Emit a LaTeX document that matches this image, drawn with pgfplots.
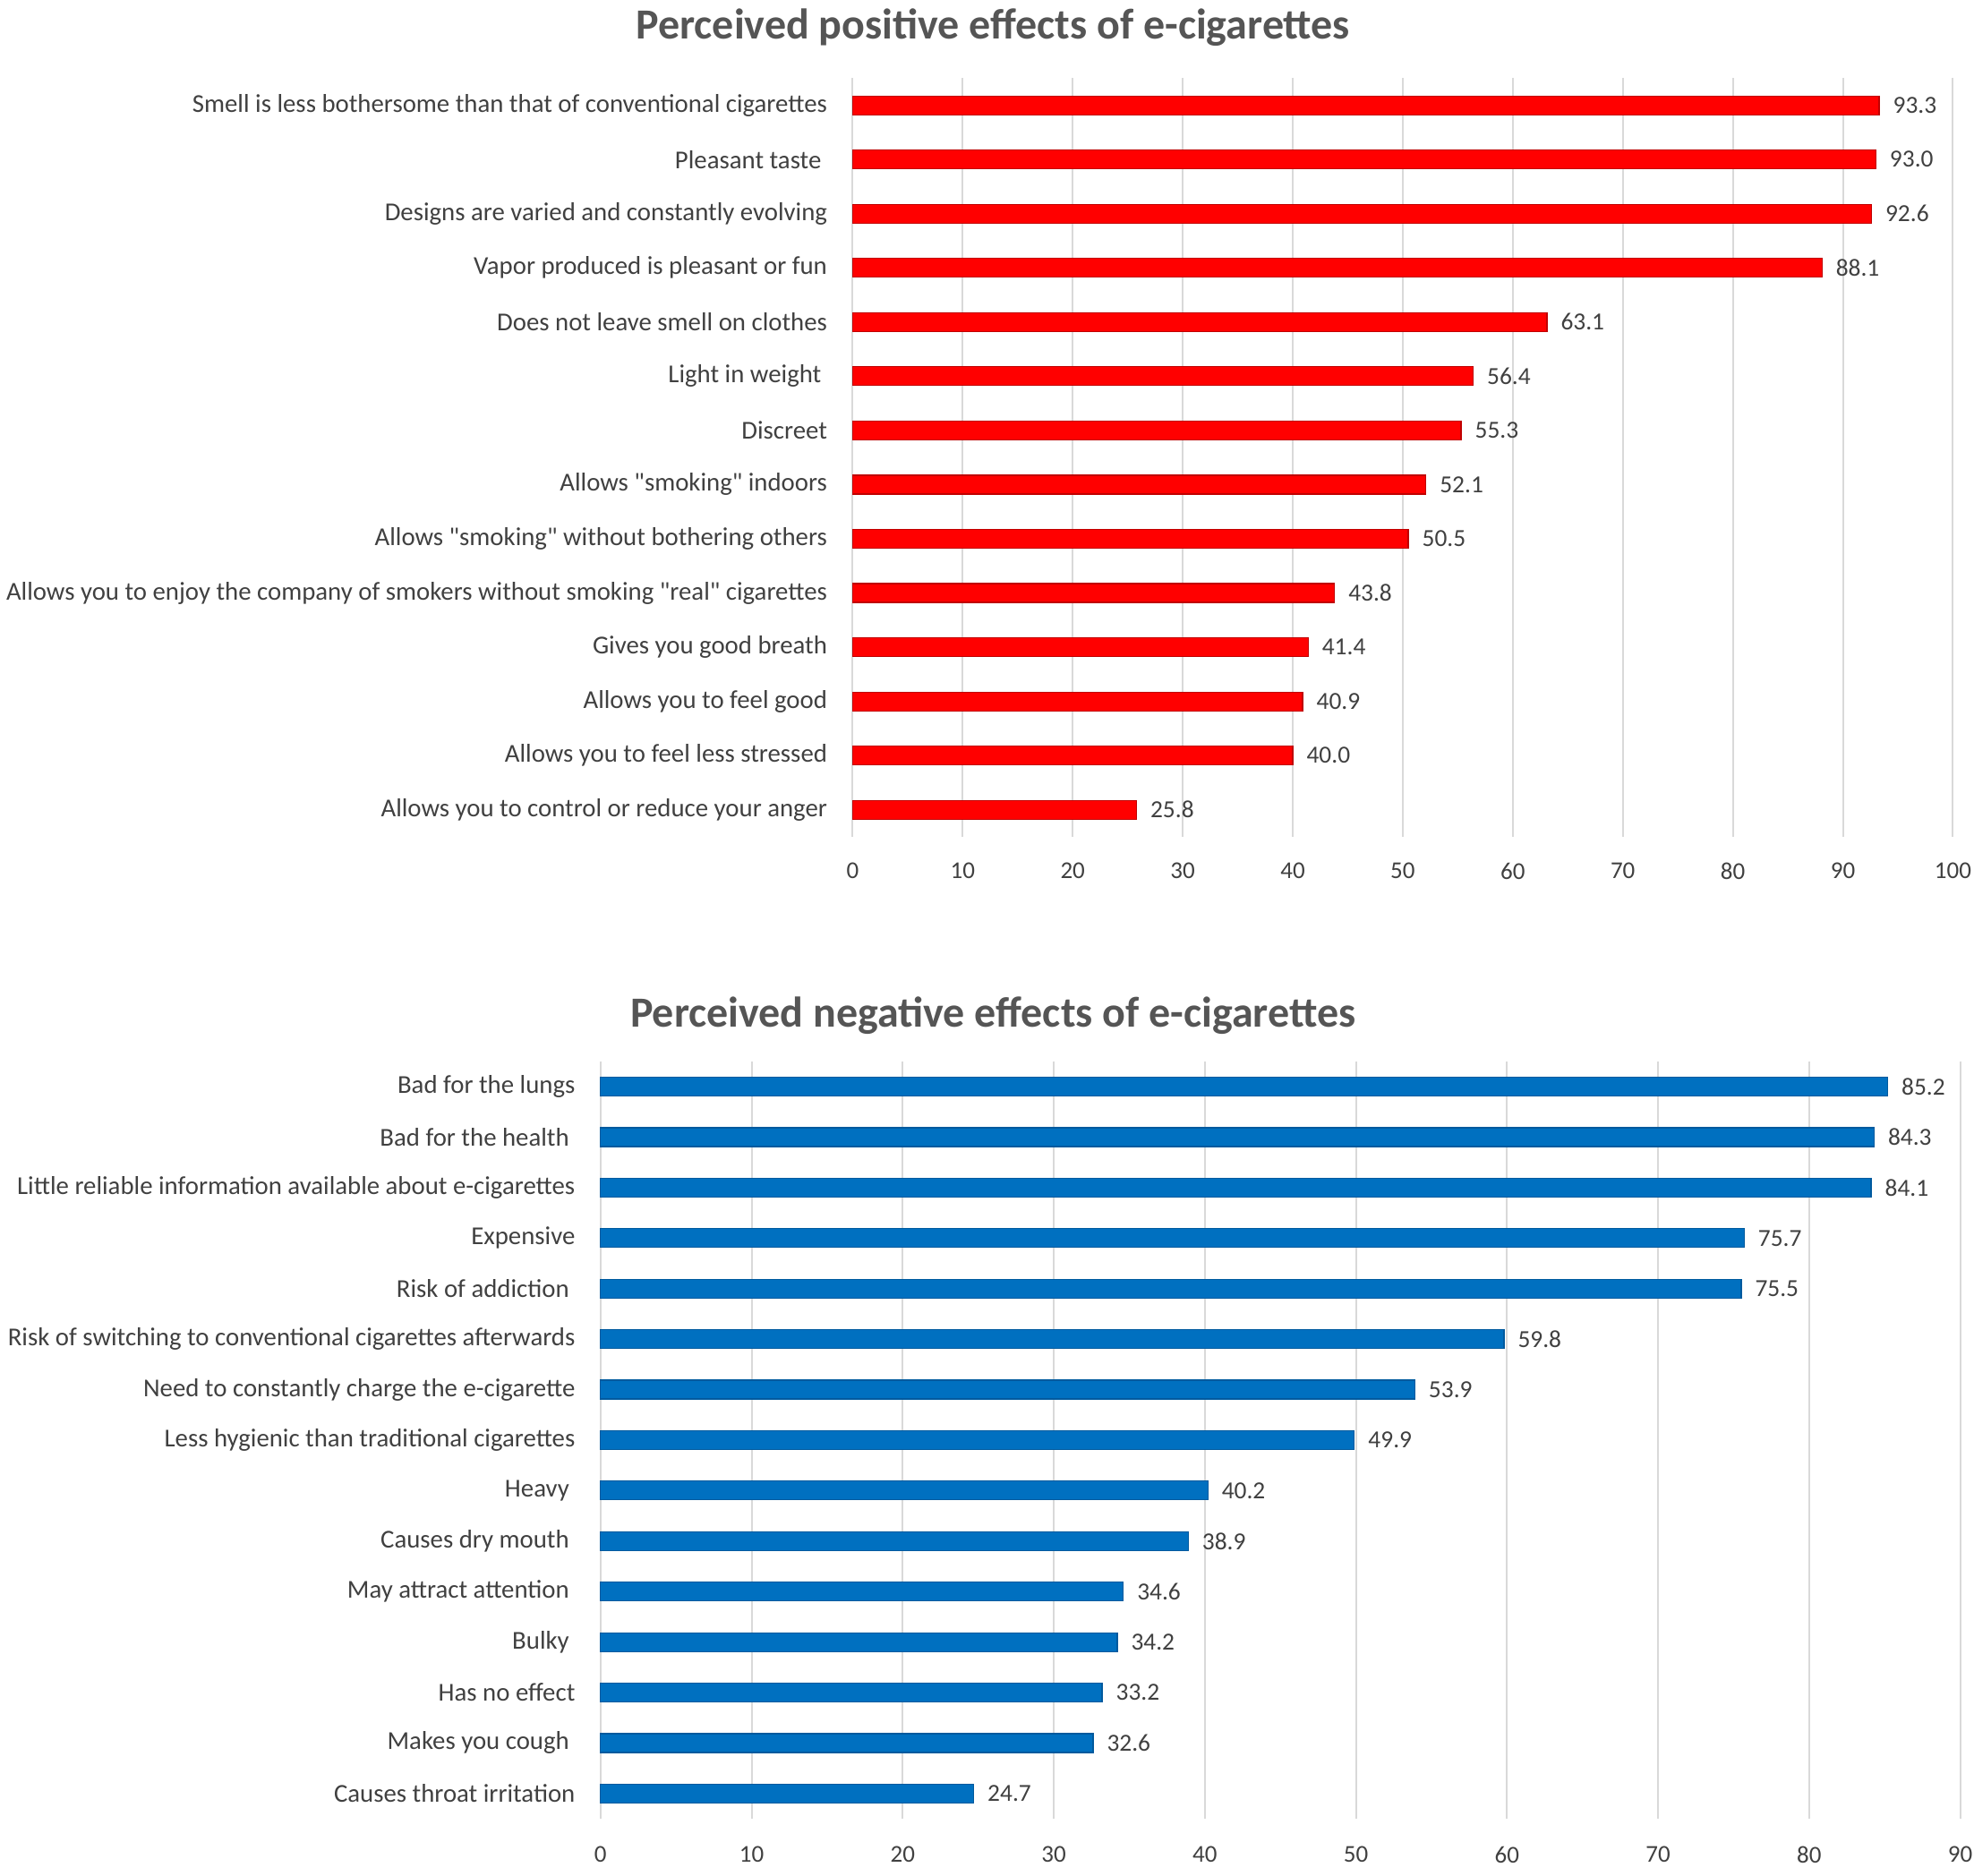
\documentclass[border=0pt]{standalone}
\usepackage{pgfplots}
\pgfplotsset{compat=1.18}
\usepackage{fontspec}
\setmainfont{Carlito}[Ligatures=TeXOff]
\definecolor{barred}{HTML}{FF0000}
\definecolor{barredd}{HTML}{C00000}
\definecolor{barblue}{HTML}{0070C0}
\definecolor{barblued}{HTML}{005A9E}
\definecolor{txt}{HTML}{404040}
\definecolor{ttl}{HTML}{555555}
\definecolor{gridc}{HTML}{D9D9D9}
\pgfplotsset{
  mybars/.style={
    scale only axis,
    anchor=south west,
    xbar,
    y dir=reverse,
    axis line style={draw=none},
    major tick length=0pt,
    xmajorgrids,
    grid style={draw=gridc, line width=1pt},
    /pgf/number format/assume math mode=true,
    ticklabel style={font=\fontsize{13.5}{16}\selectfont, text=txt},
    yticklabel style={font=\fontsize{14.4}{17}\selectfont, inner sep=0pt, xshift=-14pt},
    nodes near coords,
    nodes near coords style={font=\fontsize{13.7}{16}\selectfont, text=txt, anchor=west, inner sep=0pt, xshift=7.5pt,
      /pgf/number format/.cd, fixed, fixed zerofill, precision=1, assume math mode=true},
    bar width=10.5pt,
    clip=false,
  }
}
\begin{document}
\begin{tikzpicture}
\useasboundingbox (0,0) rectangle (1102.5pt,1048pt);
\node[font=\bfseries\fontsize{24}{28}\selectfont, text=ttl] at (554.7pt,1032.5pt) {Perceived positive effects of e-cigarettes};
\node[font=\bfseries\fontsize{24}{28}\selectfont, text=ttl] at (554.7pt,480.5pt) {Perceived negative effects of e-cigarettes};
\begin{axis}[mybars,
  at={(476.2pt,580.5pt)}, width=614.5pt, height=423.8pt,
  xmin=0, xmax=100, ymin=-0.5, ymax=13.5,
  xtick={0,10,...,100},
  xticklabel style={yshift=-11pt},
  ytick={0,...,13},
  yticklabels={
    {Smell is less bothersome than that of conventional cigarettes},
    {Pleasant taste\kern.23em},
    {Designs are varied and constantly evolving},
    {Vapor produced is pleasant or fun},
    {Does not leave smell on clothes},
    {Light in weight\kern.23em},
    {Discreet},
    {Allows "smoking" indoors},
    {Allows "smoking" without bothering others},
    {Allows you to enjoy the company of smokers without smoking "real" cigarettes},
    {Gives you good breath},
    {Allows you to feel good},
    {Allows you to feel less stressed},
    {Allows you to control or reduce your anger}},
]
\addplot[fill=barred, draw=barredd, line width=0.6pt] coordinates {
  (93.3,0) (93.0,1) (92.6,2) (88.1,3) (63.1,4) (56.4,5) (55.3,6)
  (52.1,7) (50.5,8) (43.8,9) (41.4,10) (40.9,11) (40.0,12) (25.8,13)};
\end{axis}
\begin{axis}[mybars,
  at={(335.4pt,32pt)}, width=759.4pt, height=423pt,
  xmin=0, xmax=90, ymin=-0.5, ymax=14.5,
  xtick={0,10,...,90},
  xticklabel style={yshift=-12pt},
  ytick={0,...,14},
  yticklabels={
    {Bad for the lungs},
    {Bad for the health\kern.23em},
    {Little reliable information available about e-cigarettes},
    {Expensive},
    {Risk of addiction\kern.23em},
    {Risk of switching to conventional cigarettes afterwards},
    {Need to constantly charge the e-cigarette},
    {Less hygienic than traditional cigarettes},
    {Heavy\kern.23em},
    {Causes dry mouth\kern.23em},
    {May attract attention\kern.23em},
    {Bulky\kern.23em},
    {Has no effect},
    {Makes you cough\kern.23em},
    {Causes throat irritation}},
]
\addplot[fill=barblue, draw=barblued, line width=0.6pt] coordinates {
  (85.2,0) (84.3,1) (84.1,2) (75.7,3) (75.5,4) (59.8,5) (53.9,6) (49.9,7)
  (40.2,8) (38.9,9) (34.6,10) (34.2,11) (33.2,12) (32.6,13) (24.7,14)};
\end{axis}
\end{tikzpicture}
\end{document}
